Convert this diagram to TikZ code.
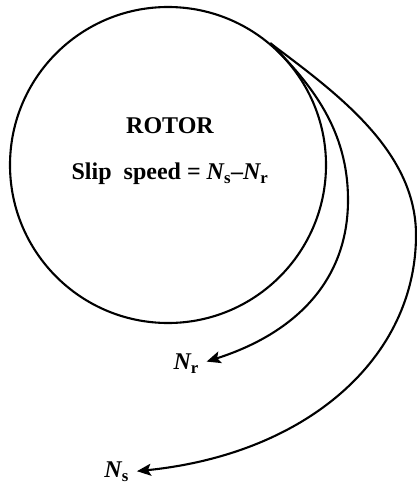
\documentclass[tikz,border=0pt]{standalone}
\usepackage{fontspec}
\setmainfont{Liberation Serif}
\usetikzlibrary{arrows.meta}
\newcommand{\Nsym}[1]{{\bfseries\itshape N}{\bfseries\textsubscript{#1}}}
\begin{document}
\begin{tikzpicture}[x=1pt,y=-1pt,
  line/.style={line width=2.1pt,black},
  arrowline/.style={line,-{Stealth[length=14pt,width=12pt,inset=3pt]},shorten >=8pt},
  lbl/.style={font=\fontsize{24}{28}\selectfont\bfseries,inner sep=0pt},
  speedlbl/.style={font=\fontsize{24}{28}\selectfont,inner sep=0pt}]
\useasboundingbox (0,0) rectangle (417,487);
\node[circle,draw,line width=2.1pt,minimum size=316pt,inner sep=0pt] (rotor) at (168,165) {};
\node[lbl] (title) at (170,126) {ROTOR};
\node[lbl] (slip) at (170,174) {Slip\ \ speed = \Nsym{s}–\Nsym{r}};
\node[speedlbl,anchor=east] (nr) at (199,364) {\Nsym{r}};
\node[speedlbl,anchor=east] (ns) at (129,472) {\Nsym{s}};
\coordinate (start) at (rotor.50);
\coordinate (nrmid) at (348,200);
\coordinate (nsmid) at (416,235);
\draw[arrowline]
  (start) .. controls (312,85) and (348,130) .. (nrmid)
  .. controls (348,285) and (290,335) .. (nr.east);
\draw[arrowline]
  (start) .. controls (335,92) and (416,150) .. (nsmid)
  .. controls (416,358) and (307,454) .. (ns.east);
\end{tikzpicture}
\end{document}
